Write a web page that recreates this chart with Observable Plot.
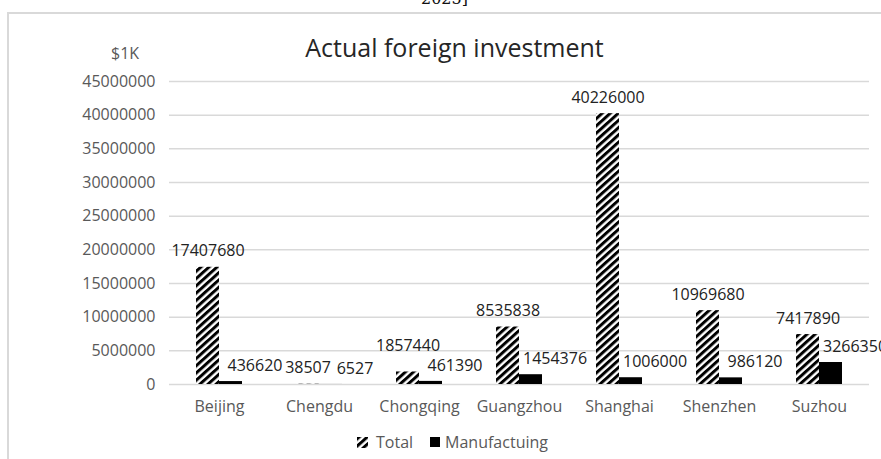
<!DOCTYPE html>
<html>
<head>
<meta charset="utf-8">
<script src="https://cdn.jsdelivr.net/npm/d3@7"></script>
<script src="https://cdn.jsdelivr.net/npm/@observablehq/plot@0.6"></script>
<style>
  body { margin: 0; background: #fff; font-family: "Open Sans", sans-serif; }
  #wrap { position: relative; width: 881px; height: 459px; overflow: hidden; background: #fff; }
  #wrap svg.chart { position: absolute; left: 0; top: 0; }
  .frame-top { position: absolute; left: 7px; top: 12px; width: 874px; height: 2px; background: #d9d9d9; }
  .frame-left { position: absolute; left: 7px; top: 12px; width: 2px; height: 447px; background: #d9d9d9; }
  .crop { position: absolute; left: 421px; top: -11px; font-family: "DejaVu Serif", serif; font-size: 16px; color: #111; }
  .title { position: absolute; left: 0; width: 909px; top: 30px; text-align: center; font-size: 25px; color: #262626; line-height: 34px; }
  .unit { position: absolute; left: 111px; top: 42px; font-size: 16px; color: #595959; line-height: 22px; }
  .legend { position: absolute; left: 357px; top: 431px; font-size: 16px; color: #595959; display: flex; align-items: center; line-height: 22px; }
  .legend .item { display: flex; align-items: center; margin-right: 17px; }
  .legend svg { margin-right: 8px; }
  .legend .item + .item svg { margin-right: 5px; }
</style>
</head>
<body>
<div id="wrap"></div>
<script>
// ---- data ----
const cities = ["Beijing", "Chengdu", "Chongqing", "Guangzhou", "Shanghai", "Shenzhen", "Suzhou"];
const seriesNames = ["Total", "Manufactuing"];
const totalValues = [17407680, 38507, 1857440, 8535838, 40226000, 10969680, 7417890];
const manufacturingValues = [436620, 6527, 461390, 1454376, 1006000, 986120, 3266350];
const yTicks = [0, 5000000, 10000000, 15000000, 20000000, 25000000, 30000000, 35000000, 40000000, 45000000];
const titleText = "Actual foreign investment";
const unitText = "$1K";

// ---- table ----
const totalRows = cities.map((c, i) => ({city: c, series: seriesNames[0], value: totalValues[i]}));
const manuRows = cities.map((c, i) => ({city: c, series: seriesNames[1], value: manufacturingValues[i]}));

const chart = Plot.plot({
  width: 881,
  height: 459,
  marginLeft: 166,
  marginRight: 10,
  marginTop: 81,
  marginBottom: 75,
  style: {fontFamily: "'Open Sans', sans-serif", fontSize: "16px", color: "#595959", background: "transparent"},
  fx: {domain: cities, padding: 0, label: null, tickSize: 0, tickPadding: 16, axis: "bottom"},
  x: {domain: seriesNames, paddingInner: 0, paddingOuter: 1.1, axis: null},
  y: {domain: [0, 45000000], ticks: yTicks, tickSize: 0, tickPadding: 14, label: null, tickFormat: d => String(d)},
  marks: [
    Plot.ruleY(yTicks, {stroke: "#d9d9d9", strokeWidth: 1.5}),
    Plot.barY(totalRows, {fx: "city", x: "series", y: "value", fill: "url(#hatch)"}),
    Plot.barY(manuRows, {fx: "city", x: "series", y: "value", fill: "black"}),
    Plot.text(totalRows, {fx: "city", x: "series", y: "value", text: d => String(d.value), dy: -16, dx: 0, fill: "#222", fontSize: 16, className: "lbl-total"}),
    Plot.text(manuRows, {fx: "city", x: "series", y: "value", text: d => String(d.value), dy: -16, dx: 24, fill: "#222", fontSize: 16, className: "lbl-manu"})
  ]
});
chart.classList.add("chart");
d3.select(chart).insert("defs", ":first-child").html(
  `<pattern id="hatch" patternUnits="userSpaceOnUse" width="5.4" height="5.4" patternTransform="rotate(48)">
     <rect width="5.4" height="5.4" fill="white"/>
     <rect width="3" height="5.4" fill="black"/>
   </pattern>`);

const wrap = document.getElementById("wrap");
wrap.innerHTML = `
  <div class="frame-top"></div>
  <div class="frame-left"></div>
  <div class="crop">2025]</div>`;
wrap.appendChild(chart);

// simple label collision avoidance: raise a Total label that collides with its Manufacturing label
const totals = Array.from(chart.querySelectorAll(".lbl-total text"));
const manus = Array.from(chart.querySelectorAll(".lbl-manu text"));
totals.forEach((t, i) => {
  const m = manus[i];
  if (!m) return;
  const a = t.getBoundingClientRect(), b = m.getBoundingClientRect();
  const overlapX = a.right > b.left + 1 && b.right > a.left + 1;
  const overlapY = a.bottom > b.top + 2 && b.bottom > a.top + 2;
  if (overlapX && overlapY) {
    const shift = a.bottom - b.top - 2;
    t.setAttribute("transform", ((t.getAttribute("transform") || "") + ` translate(0,${-shift})`).trim());
  }
});

const title = document.createElement("div");
title.className = "title"; title.textContent = titleText; wrap.appendChild(title);
const unit = document.createElement("div");
unit.className = "unit"; unit.textContent = unitText; wrap.appendChild(unit);

const legend = document.createElement("div");
legend.className = "legend";
legend.innerHTML = `
  <div class="item"><svg width="11" height="11"><defs><pattern id="hatch2" patternUnits="userSpaceOnUse" width="5.4" height="5.4" patternTransform="rotate(48)"><rect width="5.4" height="5.4" fill="white"/><rect width="3" height="5.4" fill="black"/></pattern></defs><rect width="11" height="11" fill="url(#hatch2)"/></svg><span>${seriesNames[0]}</span></div>
  <div class="item"><svg width="10" height="10"><rect width="10" height="10" fill="black"/></svg><span>${seriesNames[1]}</span></div>`;
wrap.appendChild(legend);
</script>
</body>
</html>
